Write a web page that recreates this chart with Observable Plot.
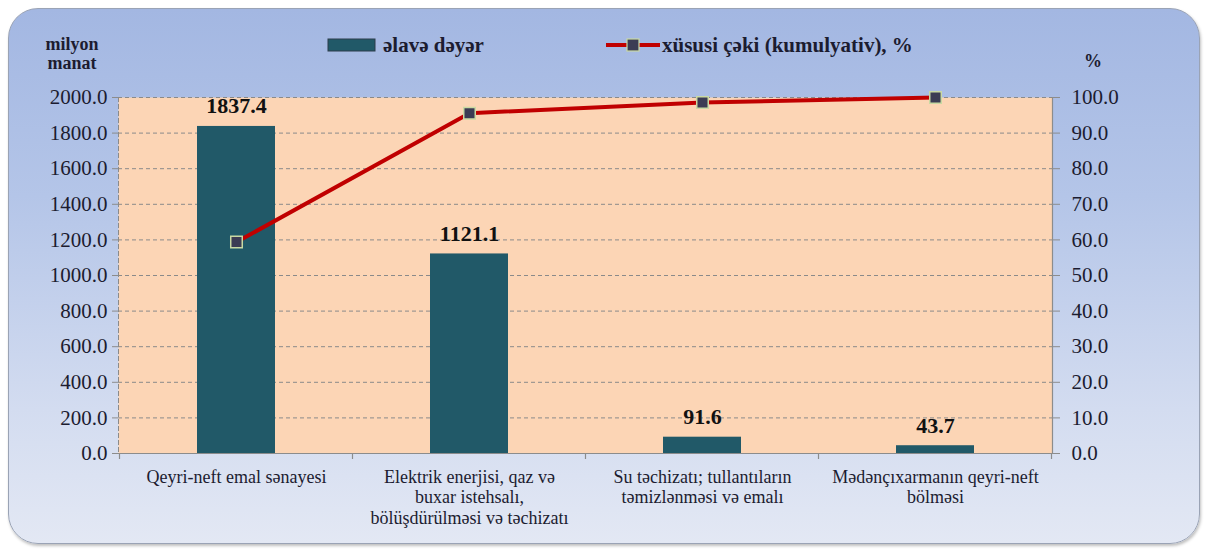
<!DOCTYPE html>
<html>
<head>
<meta charset="utf-8">
<script src="https://cdn.jsdelivr.net/npm/d3@7"></script>
<script src="https://cdn.jsdelivr.net/npm/@observablehq/plot@0.6"></script>
<style>
  html, body { margin: 0; padding: 0; background: #ffffff; }
  #wrap { position: relative; width: 1208px; height: 550px; overflow: hidden; }
  #bg { position: absolute; left: 8px; top: 8px; width: 1190px; height: 534px; border-radius: 30px; border: 1.5px solid #9aa3b5;
        background: linear-gradient(to bottom, #a3b7e2 0%, #b4c5e8 35%, #d3dcf0 75%, #e3e8f4 100%); box-shadow: 1px 2px 3px rgba(0,0,0,0.25); }
  #chart { position: absolute; left: 0; top: 0; }
  #labels { position: absolute; left: 0; top: 0; }
  #labels text { font-family: "Liberation Serif", "Times New Roman", "DejaVu Serif", serif; font-weight: bold; fill: #1c1c30; }
</style>
</head>
<body>
<div id="wrap">
  <div id="bg"></div>
  <div id="chart"></div>
  <svg id="labels" width="1208" height="100">
    <text x="72" y="50" text-anchor="middle" font-size="18">milyon</text>
    <text x="72" y="69" text-anchor="middle" font-size="18">manat</text>
    <text x="1093" y="67" text-anchor="middle" font-size="18">%</text>
    <rect x="328" y="39" width="47" height="12" fill="#215968" stroke="#2c3d4a" stroke-width="1"/>
    <text x="383" y="52" font-size="21">əlavə dəyər</text>
    <line x1="606" y1="45" x2="660" y2="45" stroke="#C00000" stroke-width="4"/>
    <rect x="627" y="39" width="12" height="12" fill="#3c3c54" stroke="#c9d9a3" stroke-width="1.2"/>
    <text x="662" y="52" font-size="21">xüsusi çəki (kumulyativ), %</text>
  </svg>
</div>
<script>
// ---- data ----
const categories = [
  "Qeyri-neft emal sənayesi",
  "Elektrik enerjisi, qaz və\nbuxar istehsalı,\nbölüşdürülməsi və təchizatı",
  "Su təchizatı; tullantıların\ntəmizlənməsi və emalı",
  "Mədənçıxarmanın qeyri-neft\nbölməsi"
];
const addedValue = [1837.4, 1121.1, 91.6, 43.7];     // milyon manat
const cumulativeShare = [59.4, 95.6, 98.6, 100.0];    // %
const leftTicks = [0, 200, 400, 600, 800, 1000, 1200, 1400, 1600, 1800, 2000];
const rightTicks = [0, 10, 20, 30, 40, 50, 60, 70, 80, 90, 100];
const leftMax = 2000, rightMax = 100;

const k = leftMax / rightMax;
const data = categories.map((c, i) => ({cat: c, value: addedValue[i], cum: cumulativeShare[i]}));

const textColor = "#1c1c30";
const gridColor = "#8a8a8a";

// small tick marks at the category boundaries on the x axis
function boundaryTicks(index, scales, values, dimensions) {
  const x = scales.x;
  const g = d3.create("svg:g").attr("stroke", "#8c8c8c").attr("stroke-width", 1.2);
  const y0 = dimensions.height - dimensions.marginBottom;
  const step = typeof x.step === "function" ? x.step() : (dimensions.width - dimensions.marginLeft - dimensions.marginRight) / categories.length;
  const bw = typeof x.bandwidth === "function" ? x.bandwidth() : 0;
  const edges = categories.map(c => x(c) - (step - bw) / 2);
  edges.push(edges[edges.length - 1] + step);
  for (const e of edges) g.append("line").attr("x1", e).attr("x2", e).attr("y1", y0).attr("y2", y0 + 6);
  return g.node();
}

const chart = Plot.plot({
  width: 1208,
  height: 550,
  marginLeft: 118,
  marginRight: 156,
  marginTop: 97,
  marginBottom: 97,
  style: {background: "transparent", fontFamily: "'Liberation Serif', 'Times New Roman', 'DejaVu Serif', serif", color: textColor, overflow: "visible"},
  x: {domain: categories, paddingInner: 0.666, paddingOuter: 0.333, axis: null},
  y: {domain: [0, leftMax], axis: null},
  marks: [
    Plot.frame({fill: "#FCD5B5", stroke: "none"}),
    Plot.gridY(leftTicks.filter(t => t > 0), {stroke: gridColor, strokeOpacity: 1, strokeDasharray: "4,3", strokeWidth: 1}),
    Plot.frame({anchor: "left", stroke: gridColor, strokeDasharray: "4,3"}),
    Plot.frame({anchor: "right", stroke: "#8c8c8c", strokeWidth: 1.2}),
    Plot.barY(data, {x: "cat", y: "value", fill: "#215968"}),
    Plot.ruleY([0], {stroke: "#8c8c8c", strokeWidth: 1.2}),
    boundaryTicks,
    Plot.axisY({ticks: leftTicks, tickFormat: d => d.toFixed(1), label: null, tickSize: 6, tickPadding: 5, stroke: "#8c8c8c", fill: textColor, fontSize: 21}),
    Plot.axisY({anchor: "right", ticks: rightTicks.map(t => t * k), tickFormat: d => (d / k).toFixed(1), label: null, tickSize: 7, tickPadding: 12, stroke: "#8c8c8c", fill: textColor, fontSize: 21}),
    Plot.line(data, {x: "cat", y: d => d.cum * k, stroke: "#C00000", strokeWidth: 4}),
    Plot.dot(data, {x: "cat", y: d => d.cum * k, symbol: "square", r: 6.5, fill: "#3c3c54", stroke: "#c9d9a3", strokeWidth: 1.5}),
    Plot.text(data, {x: "cat", y: "value", text: d => d.value.toFixed(1), dy: -20, fontWeight: "bold", fontSize: 22, fill: "#111"}),
    Plot.text(data, {x: "cat", text: "cat", frameAnchor: "bottom", lineAnchor: "top", dy: 15, fontSize: 18, lineHeight: 1.13, fill: textColor})
  ]
});
document.getElementById("chart").appendChild(chart);
</script>
</body>
</html>
